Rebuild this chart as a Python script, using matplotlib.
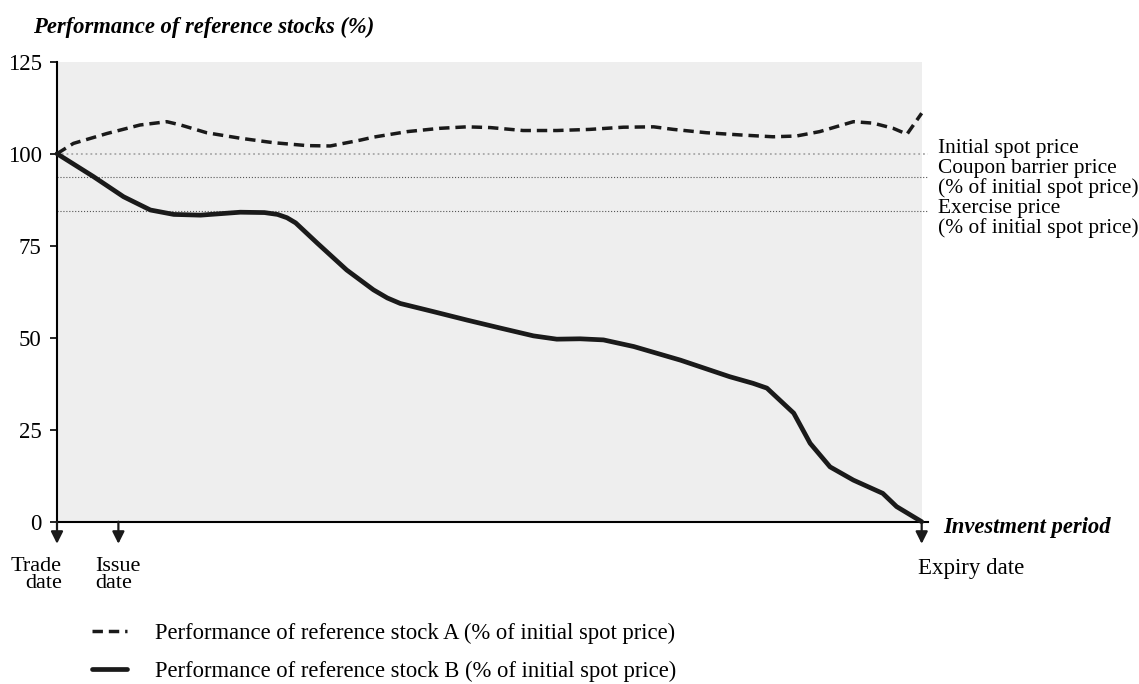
import numpy as np
import matplotlib.pyplot as plt

plt.rcParams['font.family'] = ['Liberation Serif', 'DejaVu Serif']
plt.rcParams['font.size'] = 16

# time axis: 0 = trade date, 100 = expiry date
t_a = [0, 1.9, 5.8, 9.6, 12.7, 14.3, 17.3, 21.2, 25.0, 28.9, 31.6, 35.1, 36.6,
       40.5, 44.3, 47.4, 50.1, 53.9, 57.8, 61.6, 65.5, 69.0, 71.3, 75.1, 79.0,
       82.8, 85.5, 88.2, 92.1, 94.4, 96.7, 98.3, 100]
stock_a = [100, 102.8, 105.5, 107.8, 108.7, 107.8, 105.7, 104.2, 103.0, 102.2,
           102.1, 103.7, 104.5, 106.0, 106.9, 107.3, 107.1, 106.3, 106.3, 106.6,
           107.2, 107.3, 106.6, 105.7, 105.1, 104.6, 104.8, 106.0, 108.7, 108.3,
           106.9, 105.3, 111.0]

t_b = [0, 4.2, 7.7, 10.8, 13.5, 16.6, 21.2, 24.0, 25.5, 26.6, 27.6, 30.1, 33.5,
       36.6, 38.2, 39.7, 43.5, 47.4, 51.3, 55.1, 57.8, 60.5, 63.2, 66.7, 72.1,
       77.8, 80.5, 82.1, 85.2, 87.1, 89.4, 92.1, 95.5, 97.1, 100]
stock_b = [100, 93.8, 88.3, 84.7, 83.5, 83.3, 84.1, 84.0, 83.5, 82.6, 81.2, 75.7,
           68.4, 63.0, 60.8, 59.3, 57.1, 54.8, 52.6, 50.5, 49.6, 49.7, 49.4, 47.6,
           43.9, 39.4, 37.6, 36.3, 29.5, 21.3, 14.9, 11.3, 7.7, 4.1, 0]

initial_spot = 100
coupon_barrier = 93.6
exercise_price = 84.4

date_pos = [0, 7.1, 100]
y_ticks = [0, 25, 50, 75, 100, 125]

W, H = 1139, 684
def fx(px):
    return px / W
def fy(py):
    return 1 - py / H

fig = plt.figure(figsize=(W / 100, H / 100), dpi=100)
ax = fig.add_axes([fx(57), fy(521.7), (928 - 57) / W, 460 / H])
ax.set_xlim(0, 100.73)
ax.set_ylim(0, 125)

# shaded period
ax.axvspan(0, 100, facecolor='#eeeeee', edgecolor='none', zorder=0)

# reference levels
ax.axhline(initial_spot, color='#a8a8a8', lw=1.3, ls=':', zorder=1)
ax.axhline(coupon_barrier, color='#555555', lw=0.8, ls=':', zorder=1)
ax.axhline(exercise_price, color='#555555', lw=0.8, ls=':', zorder=1)

line_a, = ax.plot(t_a, stock_a, color='#1a1a1a', lw=2.5, ls=(0, (3.0, 1.7)),
                  dash_joinstyle='round', clip_on=False, zorder=3)
line_b, = ax.plot(t_b, stock_b, color='#1a1a1a', lw=3.4, solid_joinstyle='round',
                  solid_capstyle='round', clip_on=False, zorder=3)

for s in ['top', 'right']:
    ax.spines[s].set_visible(False)
ax.spines['left'].set_linewidth(1.5)
ax.spines['bottom'].set_linewidth(1.5)
ax.set_yticks(y_ticks)
ax.set_xticks([])
ax.tick_params(axis='y', direction='out', length=5, width=1.2, pad=6, labelsize=16.5)

# date arrows
for d in date_pos:
    ax.annotate('', xy=(d, -6.0), xytext=(d, 0), annotation_clip=False,
                arrowprops=dict(arrowstyle='-|>', color='#1a1a1a', lw=1.6,
                                mutation_scale=18, shrinkA=0, shrinkB=0))

fig.text(fx(62), fy(570.7), 'Trade', ha='right', va='baseline', fontsize=16)
fig.text(fx(62), fy(588.3), 'date', ha='right', va='baseline', fontsize=16)
fig.text(fx(95), fy(570.7), 'Issue', ha='left', va='baseline', fontsize=16)
fig.text(fx(95), fy(588.3), 'date', ha='left', va='baseline', fontsize=16)
fig.text(fx(918), fy(574), 'Expiry date', ha='left', va='baseline', fontsize=16.5)

fig.text(fx(943), fy(533), 'Investment period', ha='left', va='baseline',
         fontsize=16.3, fontweight='bold', fontstyle='italic')
fig.text(fx(33), fy(33), 'Performance of reference stocks (%)', ha='left',
         va='baseline', fontsize=16.3, fontweight='bold', fontstyle='italic')

right_labels = ['Initial spot price', 'Coupon barrier price',
                '(% of initial spot price)', 'Exercise price',
                '(% of initial spot price)']
for i, txt in enumerate(right_labels):
    fig.text(fx(937.7), fy(153.3 + 20 * i), txt, ha='left', va='baseline',
             fontsize=15.4)

fig.legend([line_a, line_b],
           ['Performance of reference stock A (% of initial spot price)',
            'Performance of reference stock B (% of initial spot price)'],
           loc='upper left', bbox_to_anchor=(fx(92), fy(623)), frameon=False,
           fontsize=16.3, handlelength=1.55, handletextpad=1.24, labelspacing=0.75,
           borderaxespad=0, borderpad=0)

fig.savefig('out.png', dpi=100)
